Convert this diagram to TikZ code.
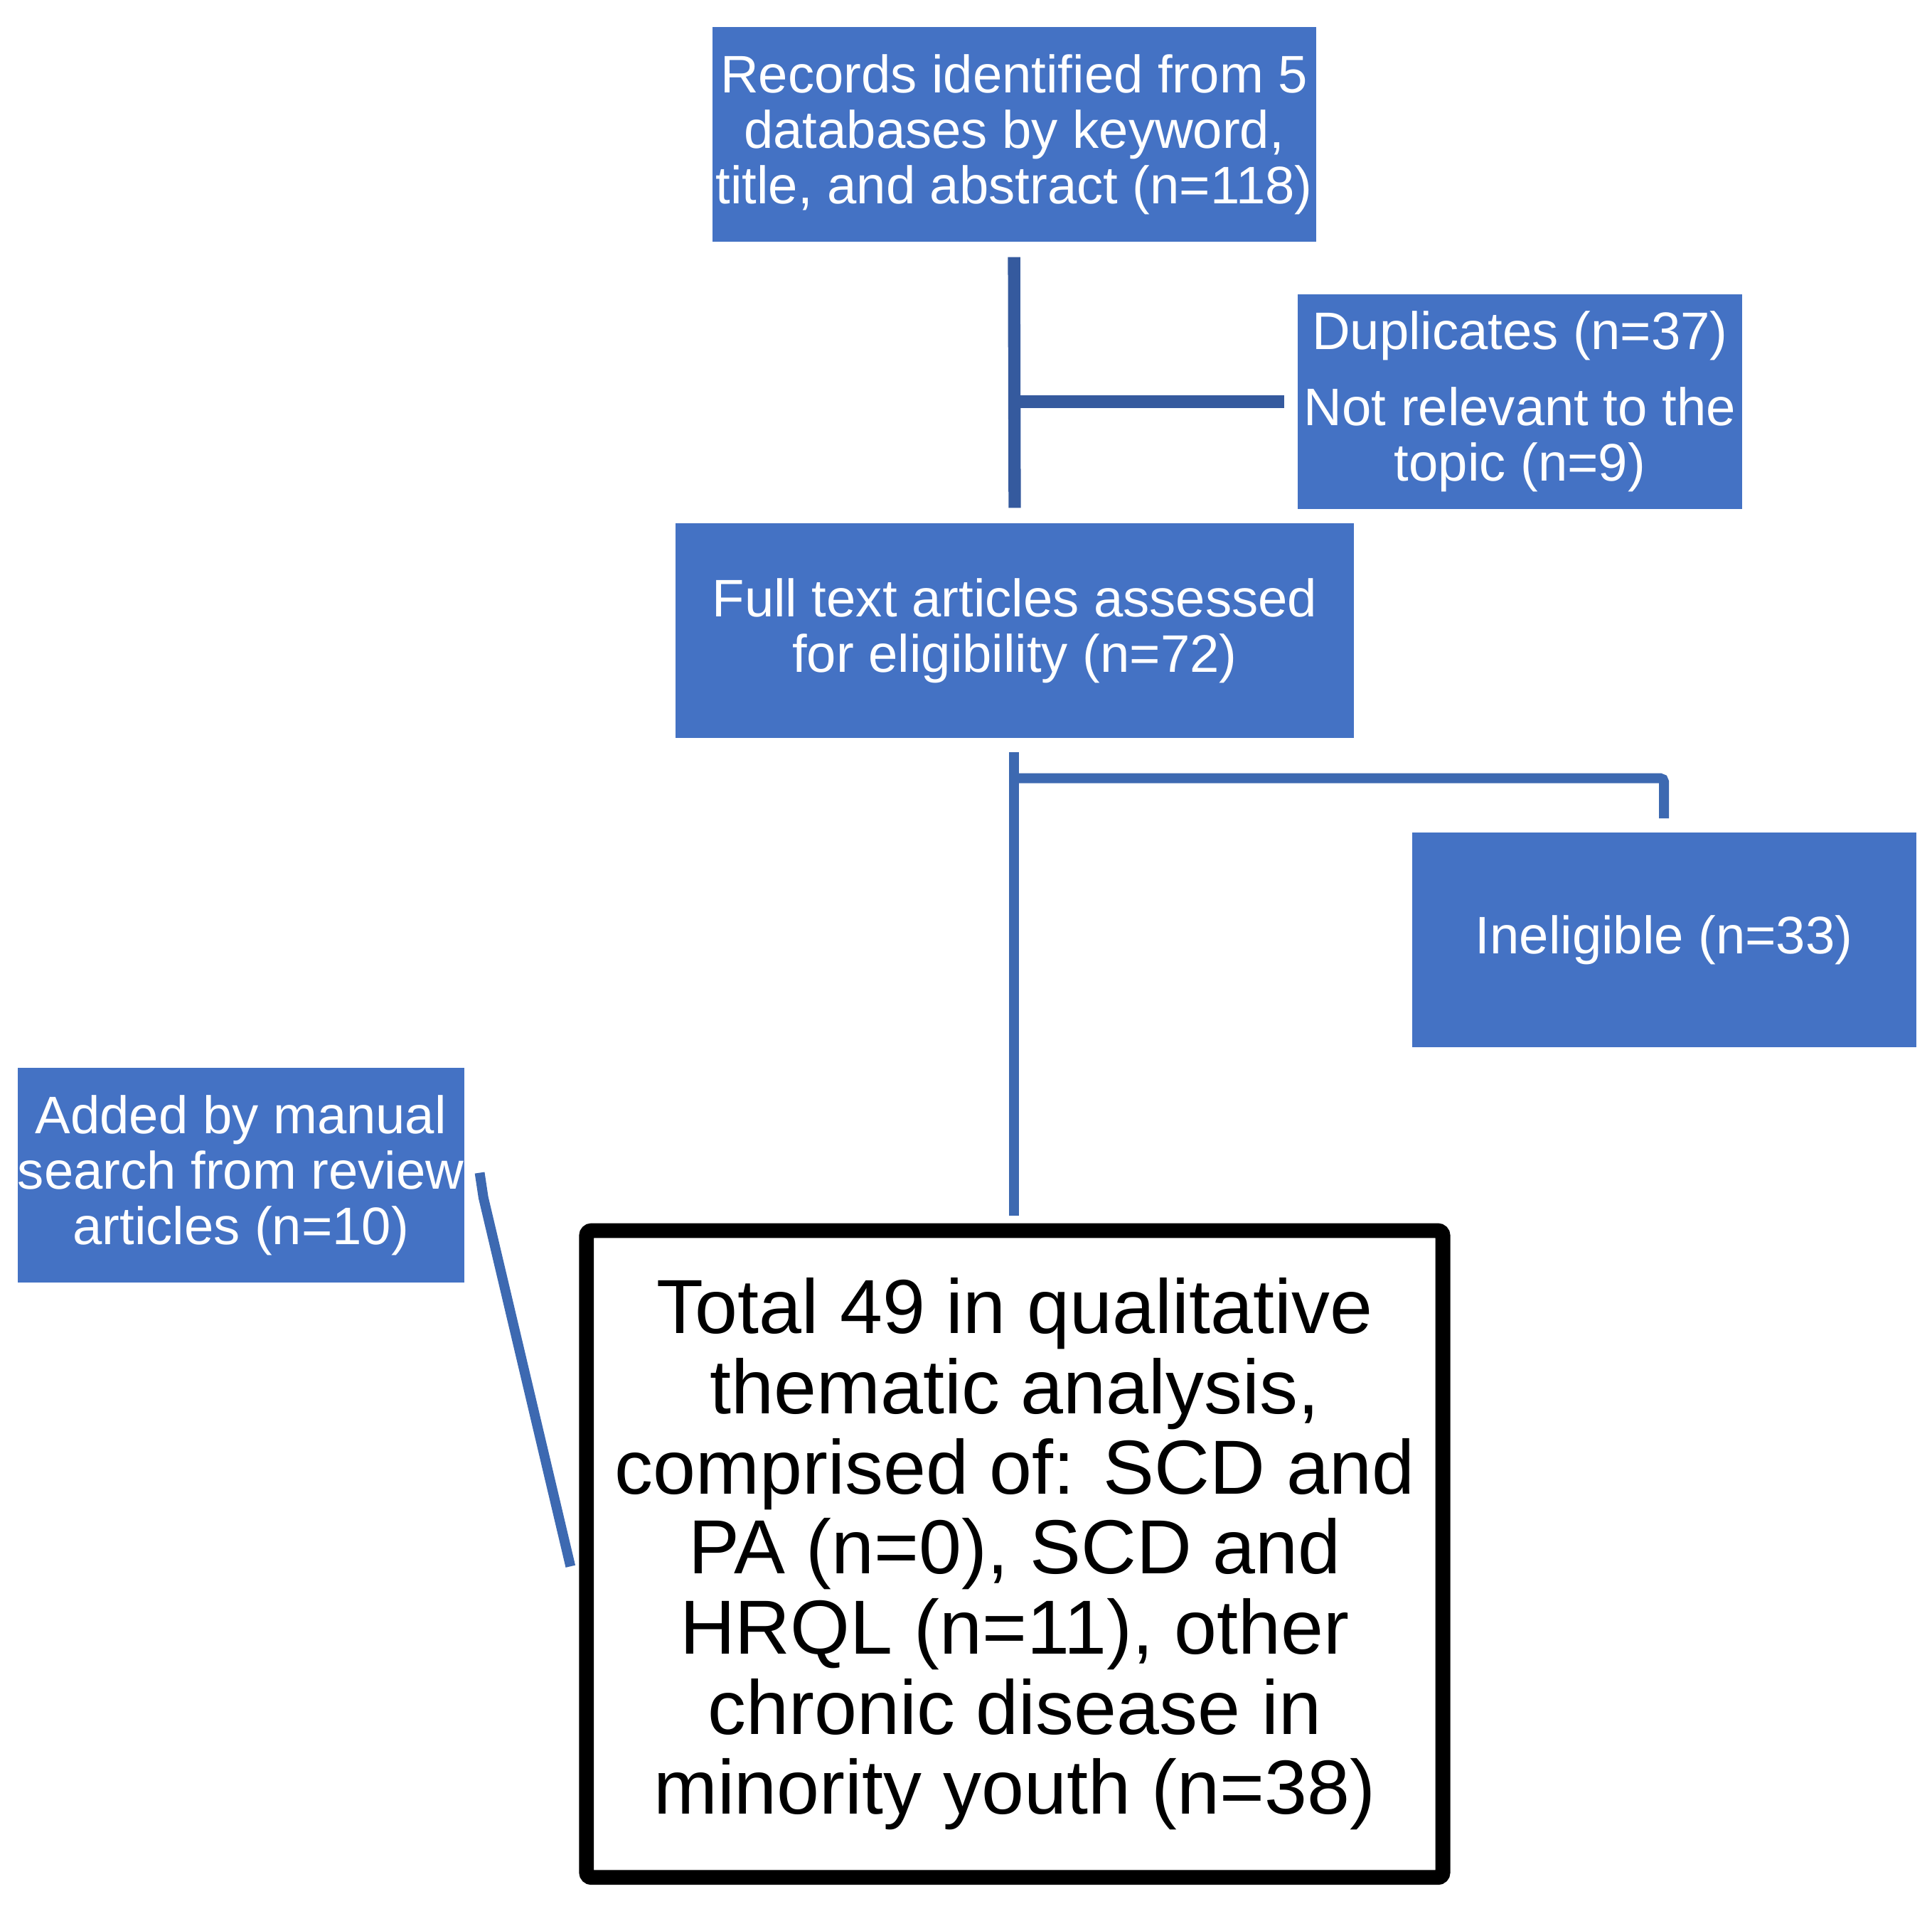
\documentclass[tikz,border=0pt]{standalone}
\usepackage{fontspec}
\setmainfont{Liberation Sans}
\definecolor{boxblue}{HTML}{4472C4}
\definecolor{connA}{HTML}{355A9E}
\definecolor{connB}{HTML}{3D69B1}
\begin{document}
\begin{tikzpicture}[
  bluebox/.style={fill=boxblue, draw=none, inner sep=0pt, text=white, align=center,
    font=\fontsize{12.2pt}{12.8pt}\selectfont, minimum height=1.74cm},
  finalbox/.style={draw=black, line width=0.12cm, rounded corners=0.04cm, fill=white,
    inner sep=0pt, align=center, minimum width=6.95cm, minimum height=5.25cm,
    font=\fontsize{17.7pt}{18.5pt}\selectfont},
  connone/.style={draw=connA, line width=0.10cm},
  conntwo/.style={draw=connB, line width=0.08cm}
]
\useasboundingbox (0,0) rectangle (15.68,-15.51);

\node[bluebox, minimum width=4.90cm] (b1) at (8.23,-1.09)
  {Records identified from 5\\databases by keyword,\\title, and abstract (n=118)};
\node[bluebox, minimum width=3.61cm] (b2) at (12.335,-3.26)
  {Duplicates (n=37)\\[0.17cm]Not relevant to the\\topic (n=9)};
\node[bluebox, minimum width=5.51cm] (b3) at (8.235,-5.12)
  {Full text articles assessed\\for eligibility (n=72)};
\node[bluebox, minimum width=4.09cm] (b4) at (13.505,-7.63)
  {Ineligible (n=33)};
\node[bluebox, minimum width=3.61cm] (b5) at (1.955,-9.54)
  {Added by manual\\search from review\\articles (n=10)};
\node[finalbox] (b6) at (8.235,-12.615)
  {Total 49 in qualitative\\thematic analysis,\\comprised of: SCD and\\PA (n=0), SCD and\\HRQL (n=11), other\\chronic disease in\\minority youth (n=38)};

% connectors
\draw[connone] ([yshift=-0.12cm]b1.south) -- ([yshift=0.12cm]b3.north);
\draw[connone] (b1.south |- b2.west) -- ([xshift=-0.10cm]b2.west);
\draw[conntwo] ([xshift=-0.005cm,yshift=-0.11cm]b3.south) -- ([xshift=-0.005cm,yshift=0.06cm]b6.north);
\draw[conntwo, rounded corners=0.03cm] ([xshift=-0.005cm,yshift=-0.32cm]b3.south) -| ([yshift=0.11cm]b4.north);
\draw[conntwo] ([xshift=0.12cm,yshift=0.02cm]b5.east) -- ([xshift=0.15cm,yshift=-0.18cm]b5.east) -- ([xshift=-0.07cm,yshift=-0.10cm]b6.west);
\end{tikzpicture}
\end{document}
